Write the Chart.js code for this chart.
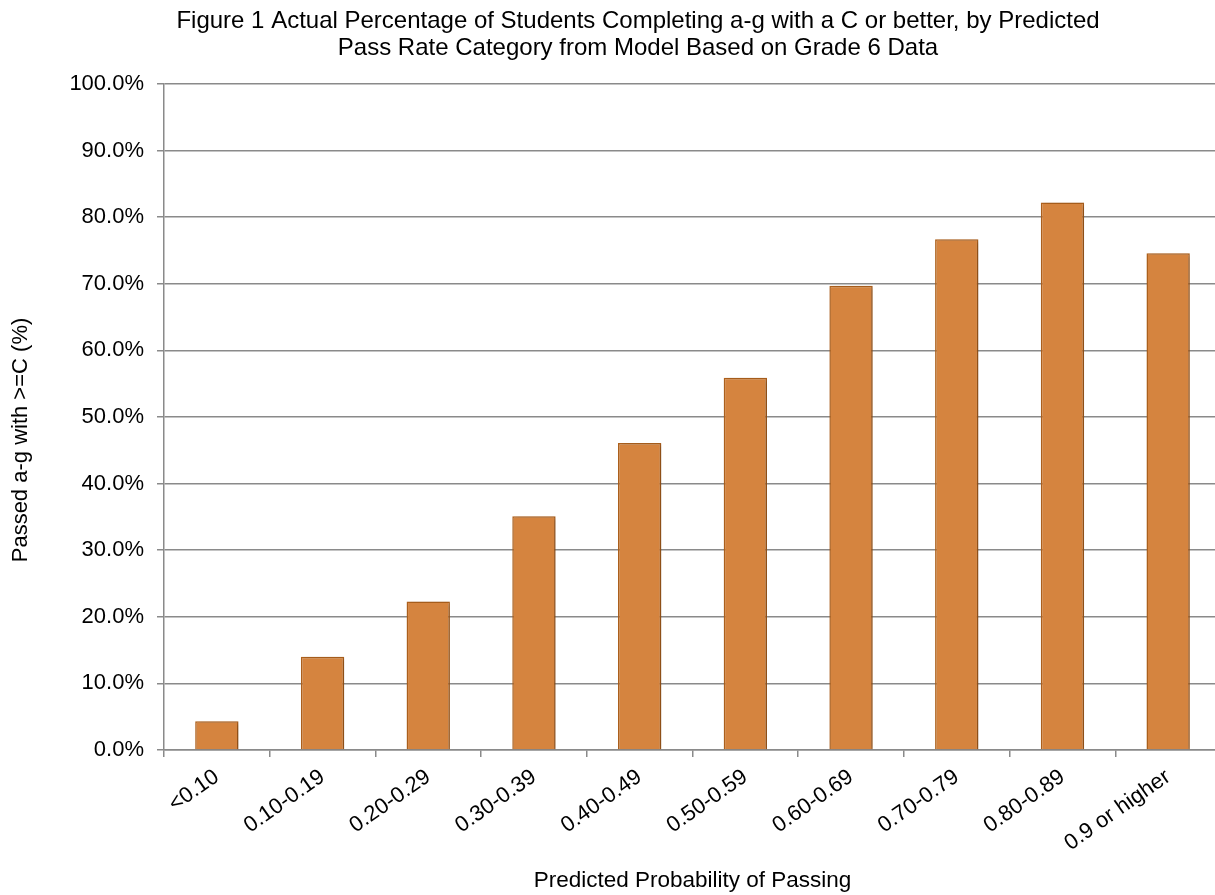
<!DOCTYPE html>
<html>
<head>
<meta charset="utf-8">
<script src="https://cdn.jsdelivr.net/npm/chart.js@4"></script>
<style>
  html, body { margin: 0; padding: 0; background: #fff; overflow: hidden; }
  #wrap { width: 1221px; height: 895px; position: relative; }
</style>
</head>
<body>
<div id="wrap"><canvas id="c"></canvas></div>
<script>
const categories = ['<0.10', '0.10-0.19', '0.20-0.29', '0.30-0.39', '0.40-0.49', '0.50-0.59', '0.60-0.69', '0.70-0.79', '0.80-0.89', '0.9 or higher'];
const passedPct = [4.3, 14.0, 22.3, 35.1, 46.1, 55.9, 69.7, 76.7, 82.2, 74.6];
const titleLines = ['Figure 1 Actual Percentage of Students Completing a-g with a C or better, by Predicted', 'Pass Rate Category from Model Based on Grade 6 Data'];
const xTitle = 'Predicted Probability of Passing';
const yTitle = 'Passed a-g with >=C (%)';

const FONT = "'Liberation Sans', Arial, Helvetica, sans-serif";
const GRID = '#8a8a8a';

const textPlugin = {
  id: 'customTexts',
  afterDraw(chart) {
    const ctx = chart.ctx;
    ctx.save();
    ctx.fillStyle = '#000';
    ctx.font = '24px ' + FONT;
    ctx.textAlign = 'center';
    ctx.textBaseline = 'alphabetic';
    ctx.fillText(titleLines[0], 638, 28);
    ctx.fillText(titleLines[1], 638, 55);
    ctx.restore();

    ctx.save();
    ctx.fillStyle = '#000';
    ctx.font = '22px ' + FONT;
    ctx.textAlign = 'center';
    ctx.textBaseline = 'middle';
    ctx.translate(21, 440);
    ctx.rotate(-Math.PI / 2);
    ctx.fillText(yTitle, 0, 0);
    ctx.restore();
  }
};

const shadowPlugin = {
  id: 'barShadow',
  beforeDatasetsDraw(chart) {
    const ctx = chart.ctx;
    ctx.save();
    ctx.shadowColor = 'rgba(0,0,0,0.25)';
    ctx.shadowBlur = 4;
    ctx.shadowOffsetX = 2;
    ctx.shadowOffsetY = 1;
  },
  afterDatasetsDraw(chart) {
    chart.ctx.restore();
  }
};

new Chart(document.getElementById('c'), {
  type: 'bar',
  data: {
    labels: categories,
    datasets: [{
      data: passedPct,
      backgroundColor: '#D5843F',
      borderColor: '#B0621D',
      borderWidth: 1.5,
      barPercentage: 0.41,
      categoryPercentage: 1.0
    }]
  },
  options: {
    responsive: true,
    maintainAspectRatio: false,
    animation: false,
    devicePixelRatio: 1,
    layout: { padding: { top: 84, left: 0, right: 0, bottom: 0 } },
    plugins: {
      legend: { display: false },
      title: { display: false },
      tooltip: { enabled: false }
    },
    scales: {
      x: {
        afterFit(scale) { scale.height = 145; },
        grid: {
          display: true,
          drawOnChartArea: false,
          drawTicks: true,
          tickLength: 7,
          offset: true,
          color: GRID,
          lineWidth: 1.5
        },
        border: { display: true, color: GRID, width: 1.5 },
        ticks: {
          color: '#000',
          font: { family: FONT, size: 22 },
          minRotation: 35,
          maxRotation: 35,
          padding: 7,
          autoSkip: false
        },
        title: {
          display: true,
          text: xTitle,
          color: '#000',
          font: { family: FONT, size: 22.5 },
          padding: { top: 0, bottom: 1 }
        }
      },
      y: {
        min: 0,
        max: 100,
        afterFit(scale) { scale.width = 164; },
        grid: {
          color: GRID,
          lineWidth: 1.5,
          tickLength: 7,
          drawTicks: true
        },
        border: { display: true, color: GRID, width: 1.5 },
        ticks: {
          stepSize: 10,
          color: '#000',
          font: { family: FONT, size: 22 },
          padding: 13,
          callback: (v) => Number(v).toFixed(1) + '%'
        },
        title: { display: false }
      }
    }
  },
  plugins: [textPlugin, shadowPlugin]
});
</script>
</body>
</html>
